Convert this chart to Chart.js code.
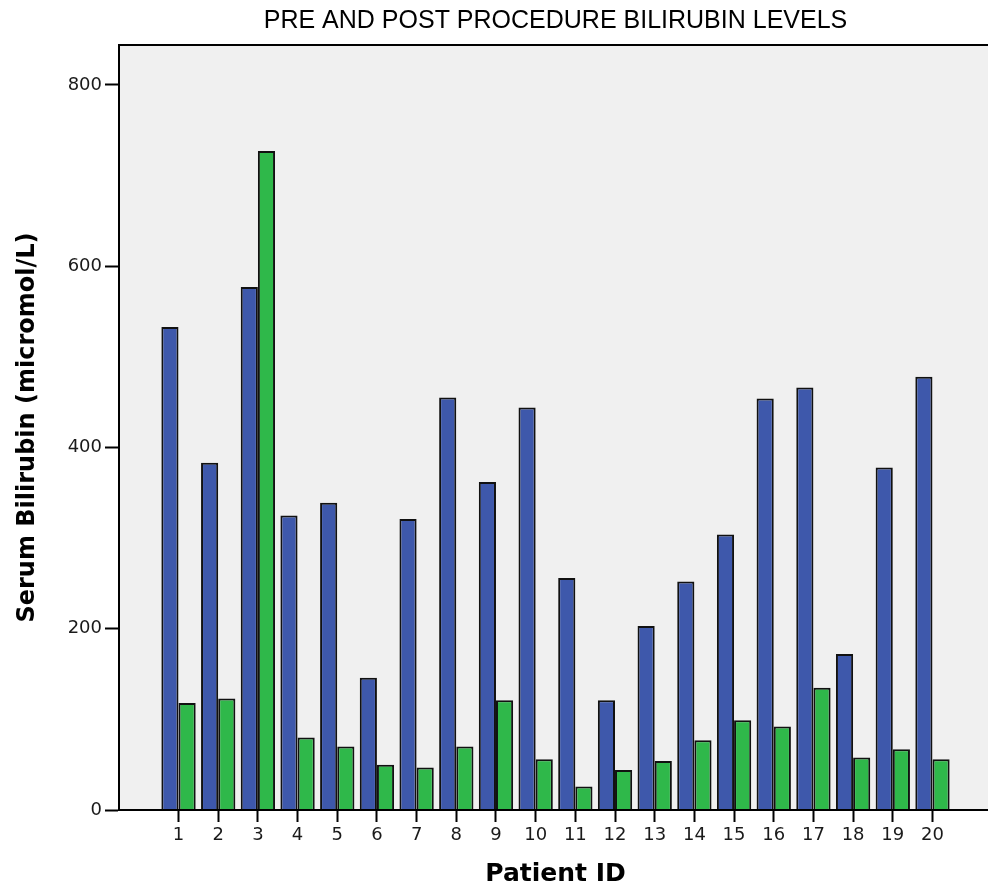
<!DOCTYPE html>
<html>
<head>
<meta charset="utf-8">
<script src="https://cdn.jsdelivr.net/npm/chart.js@4.4.1/dist/chart.umd.min.js"></script>
<style>
  html, body { margin: 0; padding: 0; background: #ffffff; overflow: hidden; }
  #wrap { width: 992px; height: 889px; }
</style>
</head>
<body>
<div id="wrap"><canvas id="c" width="992" height="889"></canvas></div>
<script>
// ---- data ----
const patientIds = ['1','2','3','4','5','6','7','8','9','10','11','12','13','14','15','16','17','18','19','20'];
const preProcedure  = [533, 383, 577, 325, 339, 146, 321, 455, 362, 444, 256, 121, 203, 252, 304, 454, 466, 172, 378, 478];
const postProcedure = [118, 123, 727,  80,  70,  50,  47,  70, 121,  56,  26,  44,  54,  77,  99,  92, 135,  58,  67,  56];
const yTickValues = [0, 200, 400, 600, 800];

const titleText = 'PRE AND POST PROCEDURE BILIRUBIN LEVELS';
const xTitle = 'Patient ID';
const yTitle = 'Serum Bilirubin (micromol/L)';

// one empty slot before and after the patients, as in the reference axis
const labels = [''].concat(patientIds, ['']);
const preData = [null].concat(preProcedure, [null]);
const postData = [null].concat(postProcedure, [null]);

const plotFrame = {
  id: 'plotFrame',
  beforeDraw(chart) {
    const a = chart.chartArea, ctx = chart.ctx;
    ctx.save();
    ctx.fillStyle = '#f0f0f0';
    ctx.fillRect(a.left, a.top, a.right - a.left, a.bottom - a.top);
    ctx.restore();
  },
  afterDatasetsDraw(chart) {
    const a = chart.chartArea, ctx = chart.ctx;
    ctx.save();
    ctx.strokeStyle = '#000';
    ctx.lineWidth = 2;
    ctx.strokeRect(a.left, a.top, a.right - a.left, a.bottom - a.top);
    ctx.restore();
  }
};

new Chart(document.getElementById('c'), {
  type: 'bar',
  data: {
    labels: labels,
    datasets: [
      { label: 'Pre', data: preData, backgroundColor: '#3e58ab', borderColor: '#111111', borderWidth: 2 },
      { label: 'Post', data: postData, backgroundColor: '#2fb84a', borderColor: '#111111', borderWidth: 2 }
    ]
  },
  options: {
    responsive: false,
    animation: false,
    layout: { padding: 0 },
    datasets: { bar: { categoryPercentage: 0.865, barPercentage: 1.0 } },
    plugins: {
      legend: { display: false },
      tooltip: { enabled: false },
      title: {
        display: true,
        text: titleText,
        fullSize: false,
        color: '#000',
        font: { family: 'Liberation Sans, Arial, sans-serif', size: 25, weight: 'normal', lineHeight: 1.2 },
        padding: { top: 6, bottom: 9 }
      }
    },
    scales: {
      x: {
        afterFit(scale) { scale.height = 79; },
        grid: {
          offset: false,
          drawOnChartArea: false,
          drawTicks: true,
          tickLength: 12,
          tickWidth: 2,
          tickColor: (ctx) => (ctx.tick && ctx.tick.label === '') ? 'rgba(0,0,0,0)' : '#000'
        },
        border: { display: true, color: '#000', width: 2 },
        ticks: {
          color: '#1a1a1a',
          autoSkip: false,
          maxRotation: 0,
          padding: 3,
          font: { family: 'DejaVu Sans, sans-serif', size: 18 }
        },
        title: {
          display: true,
          text: xTitle,
          color: '#000',
          font: { family: 'DejaVu Sans, sans-serif', size: 25, weight: 'bold', lineHeight: 1 },
          padding: { top: 0, bottom: 2 }
        }
      },
      y: {
        min: 0,
        max: 844,
        afterFit(scale) { scale.width = 119; },
        afterBuildTicks(scale) { scale.ticks = yTickValues.map(v => ({ value: v })); },
        grid: {
          drawOnChartArea: false,
          drawTicks: true,
          tickLength: 14,
          tickWidth: 2,
          tickColor: '#000'
        },
        border: { display: true, color: '#000', width: 2 },
        ticks: {
          color: '#1a1a1a',
          padding: 3,
          font: { family: 'DejaVu Sans, sans-serif', size: 18 }
        },
        title: {
          display: true,
          text: yTitle,
          color: '#000',
          font: { family: 'DejaVu Sans, sans-serif', size: 24, weight: 'bold', lineHeight: 1.2 },
          padding: { top: 13, bottom: 0 }
        }
      }
    }
  },
  plugins: [plotFrame]
});
</script>
</body>
</html>
